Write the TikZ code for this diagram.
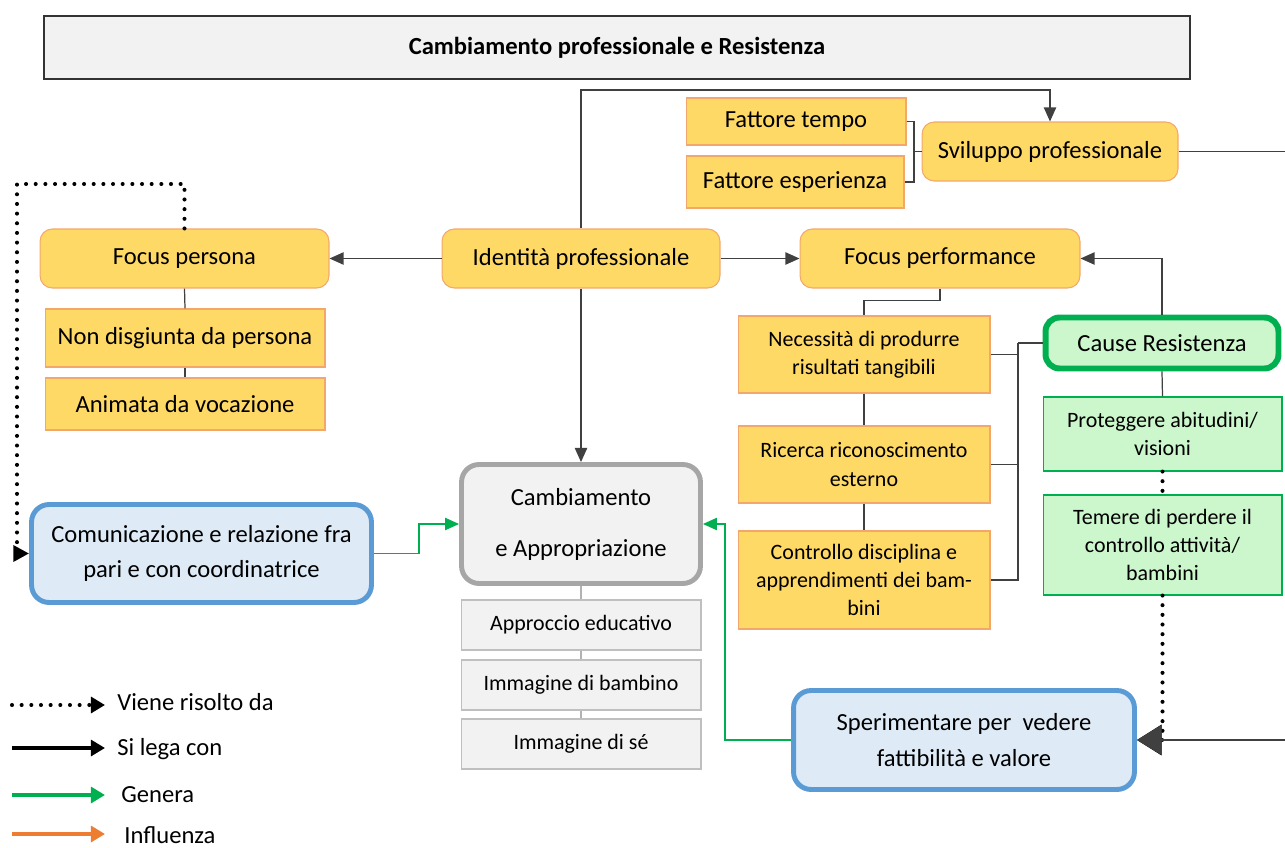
\documentclass[tikz,border=0pt]{standalone}
\usepackage{fontspec}
\setmainfont{Carlito}
\usetikzlibrary{arrows.meta}
\definecolor{gold}{HTML}{FFD966}
\definecolor{goldline}{HTML}{F4A76A}
\definecolor{okgreen}{HTML}{00B050}
\definecolor{mint}{HTML}{CCF7CC}
\definecolor{skyline}{HTML}{5B9BD5}
\definecolor{sky}{HTML}{DEEBF7}
\definecolor{paper}{HTML}{F2F2F2}
\definecolor{tangerine}{HTML}{ED7D31}

\begin{document}
\begin{tikzpicture}[x=0.02cm,y=-0.02cm,
    every node/.style={align=center,inner sep=2pt,font=\fontsize{14}{20}\selectfont},
    goldround/.style={draw=goldline,fill=gold,rounded corners=7pt,line width=0.6pt},
    goldrect/.style={draw=goldline,fill=gold,line width=0.6pt},
    goldsmall/.style={goldrect,font=\fontsize{12.5}{16}\selectfont},
    causebox/.style={draw=okgreen,fill=mint,rounded corners=8pt,line width=3.4pt},
    causerect/.style={draw=okgreen,fill=mint,line width=0.6pt,font=\fontsize{12.5}{16}\selectfont},
    bluebox/.style={draw=skyline,fill=sky,rounded corners=10pt,line width=2.8pt},
    greybox/.style={draw=black!35,fill=paper,rounded corners=10pt,line width=2.8pt},
    greyrect/.style={draw=black!25,fill=paper,line width=0.6pt,font=\fontsize{12.5}{16}\selectfont},
    link/.style={draw=black!75,line width=0.7pt},
    lega/.style={link,-{Triangle[length=8pt,width=7pt]}},
    dots/.style={black,line width=2.3pt,line cap=round,dash pattern=on 0pt off 5.5pt},
    risolto/.style={dots,-{Triangle[length=9pt,width=9pt]}},
    genera/.style={draw=okgreen,line width=0.8pt,-{Triangle[length=8pt,width=7pt]}}]
    \useasboundingbox (0,0) rectangle (1285,848);

    \node[draw=black!80,fill=paper,line width=0.8pt,minimum width=22.92cm,minimum height=1.26cm,
        font=\bfseries\fontsize{14}{16}\selectfont] (title) at (617,47.5) {Cambiamento professionale e Resistenza};

    \node[goldrect,minimum width=4.4cm,minimum height=0.94cm] (ftempo) at (796,121.5) {Fattore tempo};
    \node[goldrect,minimum width=4.36cm,minimum height=1.04cm] (fesper) at (795,182) {Fattore esperienza};
    \node[goldround,minimum width=5.12cm,minimum height=1.18cm] (svil) at (1050,151.5) {Sviluppo professionale};

    \node[goldround,minimum width=5.78cm,minimum height=1.18cm] (fpers) at (184.5,258.5) {Focus persona};
    \node[goldround,minimum width=5.56cm,minimum height=1.18cm] (ident) at (581,258.5) {Identità professionale};
    \node[goldround,minimum width=5.6cm,minimum height=1.18cm] (fperf) at (940,258.5) {Focus performance};

    \node[goldrect,minimum width=5.6cm,minimum height=1.16cm] (nondis) at (185,338) {Non disgiunta da persona};
    \node[goldrect,minimum width=5.6cm,minimum height=1.04cm] (animata) at (185,404) {Animata da vocazione};

    \node[goldsmall,minimum width=5.04cm,minimum height=1.54cm] (necess) at (864,354.5) {Necessità di produrre\\risultati tangibili};
    \node[goldsmall,minimum width=5.04cm,minimum height=1.54cm] (ricerca) at (864,464.5) {Ricerca riconoscimento\\esterno};
    \node[goldsmall,minimum width=5.04cm,minimum height=1.96cm] (controllo) at (864,580) {Controllo disciplina e\\apprendimenti dei bam-\\bini};

    \node[causebox,minimum width=4.66cm,minimum height=1.02cm] (cause) at (1162,343) {Cause Resistenza};
    \node[causerect,minimum width=4.78cm,minimum height=1.48cm] (proteg) at (1162.5,434) {Proteggere abitudini/\\visioni};
    \node[causerect,minimum width=4.78cm,minimum height=2.0cm] (temere) at (1162.5,545) {Temere di perdere il\\controllo attività/\\bambini};

    \node[greybox,minimum width=4.78cm,minimum height=2.38cm,font=\fontsize{14}{29}\selectfont] (cambio) at (581,524) {Cambiamento\\e Appropriazione};
    \node[greyrect,minimum width=4.8cm,minimum height=1.0cm] (approc) at (581,625) {Approccio educativo};
    \node[greyrect,minimum width=4.8cm,minimum height=1.0cm] (imbamb) at (581,685) {Immagine di bambino};
    \node[greyrect,minimum width=4.8cm,minimum height=1.0cm] (imse) at (581,744) {Immagine di sé};

    \node[bluebox,minimum width=6.8cm,minimum height=1.96cm] (comunic) at (201.5,553.5) {Comunicazione e relazione fra\\pari e con coordinatrice};
    \node[bluebox,minimum width=6.82cm,minimum height=1.98cm] (sperim) at (964,740) {Sperimentare per\ \ vedere\\fattibilità e valore};

    % connettori
    \coordinate (topbend) at (581,90);
    \coordinate (fjoin) at (914,151.5);
    \coordinate (svilout) at (1285,151.5);
    \coordinate (dotbend) at (17,184);
    \coordinate (cjoin) at (1018,343);
    \coordinate (sperout) at (1285,740);

    \draw[lega] (ident.north) -- (topbend) -| (svil.north);
    \draw[lega] (ident.south) -- (cambio.north);
    \draw[lega] (ident.west) -- (fpers.east);
    \draw[lega] (ident.east) -- (fperf.west);
    \draw[link] (ftempo.east) -| (fjoin) -- (svil.west);
    \draw[link] (fesper.east) -| (fjoin);
    \draw[link] (svil.east) -- (svilout);

    \draw[link] (fpers.south) -- (nondis.north);
    \draw[link] (nondis.south) -- (animata.north);
    \draw[risolto] (fpers.north) |- (dotbend) |- (comunic.west);

    \draw[link] (fperf.south) -- ++(0,12) -| (necess.north);
    \draw[link] (necess.south) -- (ricerca.north);
    \draw[link] (ricerca.south) -- (controllo.north);
    \draw[link] (cause.west) -- (cjoin);
    \draw[link] (necess.east) -| (cjoin);
    \draw[link] (ricerca.east) -| (cjoin);
    \draw[link] (controllo.east) -| (cjoin);
    \draw[lega] (cause.north) |- (fperf.east);
    \draw[link] (cause.south) -- (proteg.north);
    \draw[dots] (proteg.south) -- (temere.north);
    \draw[risolto,-{Triangle[length=14pt,width=17pt]}] (temere.south) |- (sperim.east);
    \draw[lega,-{Triangle[length=14pt,width=17pt]}] (sperout) -- (sperim.east);

    \draw[genera] (comunic.east) -- ++(45,0) |- (cambio.west);
    \draw[genera] (sperim.west) -- ++(-66,0) |- (cambio.east);
    \draw[draw=black!30,line width=0.6pt] (cambio.south) -- (approc.north);
    \draw[draw=black!30,line width=0.6pt] (approc.south) -- (imbamb.north);
    \draw[draw=black!30,line width=0.6pt] (imbamb.south) -- (imse.north);

    % legenda
    \coordinate (l1a) at (12,705); \coordinate (l1b) at (105,705);
    \coordinate (l2a) at (12,748); \coordinate (l2b) at (105,748);
    \coordinate (l3a) at (12,795); \coordinate (l3b) at (105,795);
    \coordinate (l4a) at (12,834); \coordinate (l4b) at (105,834);
    \draw[dots,-{Triangle[length=8pt,width=9pt]}] (l1a) -- (l1b);
    \draw[black,line width=2.2pt,-{Triangle[length=8pt,width=9pt]}] (l2a) -- (l2b);
    \draw[okgreen,line width=2.2pt,-{Triangle[length=8pt,width=9pt]}] (l3a) -- (l3b);
    \draw[tangerine,line width=2.2pt,-{Triangle[length=8pt,width=9pt]}] (l4a) -- (l4b);
    \node[anchor=west,inner sep=0pt] (leg1) at (117,702) {Viene risolto da};
    \node[anchor=west,inner sep=0pt] (leg2) at (117,749) {Si lega con};
    \node[anchor=west,inner sep=0pt] (leg3) at (121,795) {Genera};
    \node[anchor=west,inner sep=0pt] (leg4) at (124,835) {Influenza};
\end{tikzpicture}
\end{document}
